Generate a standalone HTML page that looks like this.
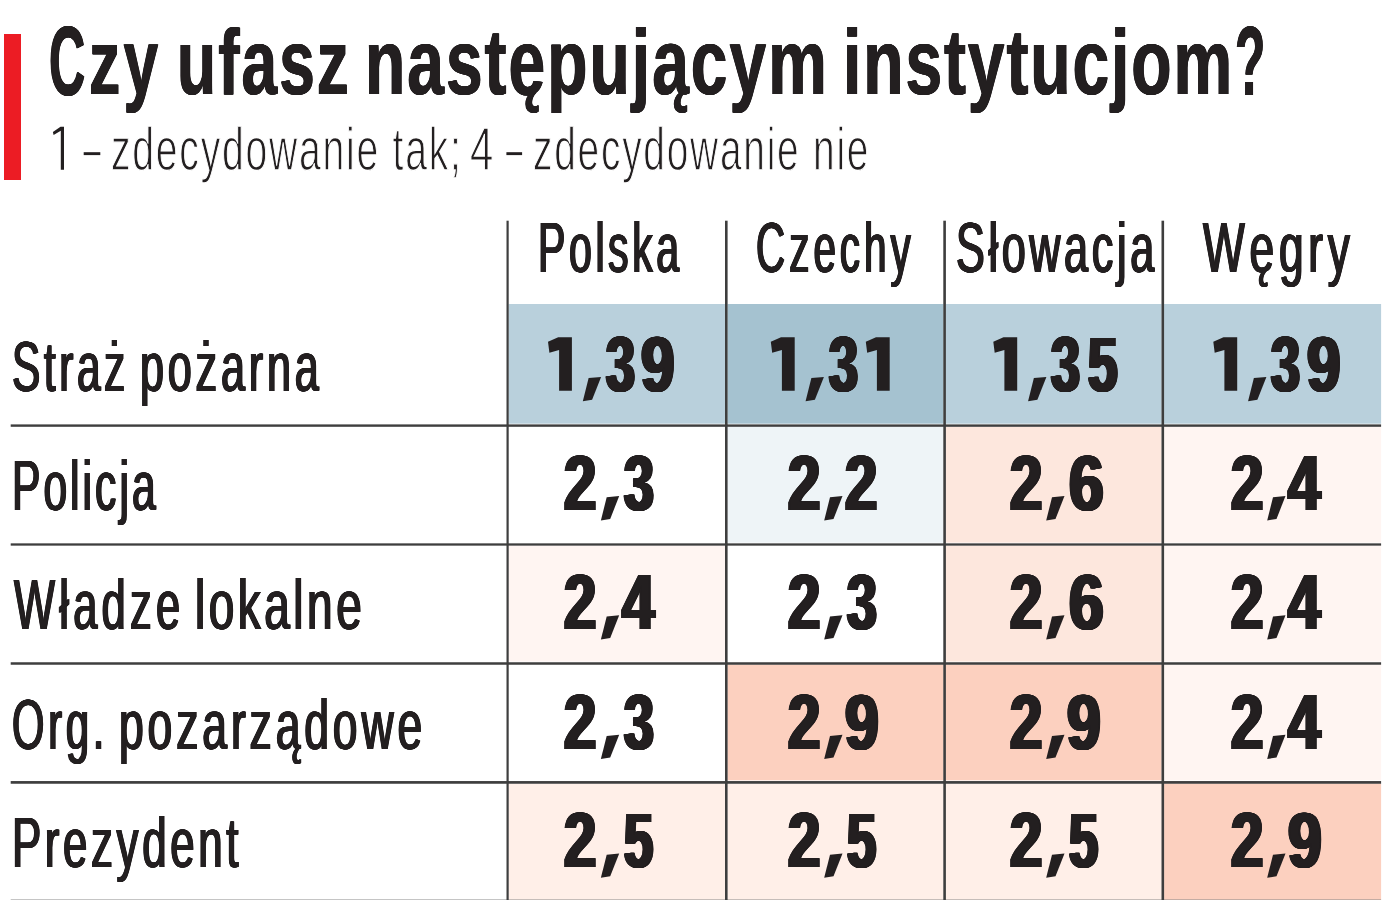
<!DOCTYPE html>
<html lang="pl"><head><meta charset="utf-8"><title>Czy ufasz następującym instytucjom?</title>
<style>
html,body{margin:0;padding:0;background:#fff;}
body{width:1400px;height:900px;overflow:hidden;position:relative;font-family:"Liberation Sans",sans-serif;color:#231f20;}
.bar{position:absolute;left:4px;top:34px;width:17.3px;height:146px;background:#ec1c24;}
#wrap{position:absolute;left:0;top:0;width:1400px;height:900px;filter:blur(0.4px);}
svg.grid{position:absolute;left:0;top:0;}
.t{position:absolute;white-space:nowrap;transform-origin:0 0;}
.hid{color:transparent;}
.sub{-webkit-text-stroke:1.3px #fff;paint-order:fill stroke;}
</style></head><body>
<div id="wrap">
<div class="bar"></div>
<svg class="grid" width="1400" height="900" viewBox="0 0 1400 900">
<rect x="508.70" y="304.00" width="216.30" height="119.70" fill="#b9d0dc"/>
<rect x="727.60" y="304.00" width="215.70" height="119.70" fill="#a5c2d0"/>
<rect x="945.90" y="304.00" width="215.60" height="119.70" fill="#b9d0dc"/>
<rect x="1164.10" y="304.00" width="217.00" height="119.70" fill="#b9d0dc"/>
<rect x="727.60" y="426.80" width="215.70" height="115.85" fill="#eef4f7"/>
<rect x="945.90" y="426.80" width="215.60" height="115.85" fill="#fde7dd"/>
<rect x="1164.10" y="426.80" width="217.00" height="115.85" fill="#fff5f2"/>
<rect x="508.70" y="545.65" width="216.30" height="115.90" fill="#fff5f2"/>
<rect x="945.90" y="545.65" width="215.60" height="115.90" fill="#fde7dd"/>
<rect x="1164.10" y="545.65" width="217.00" height="115.90" fill="#fff5f2"/>
<rect x="727.60" y="664.75" width="215.70" height="115.60" fill="#fcd0bf"/>
<rect x="945.90" y="664.75" width="215.60" height="115.60" fill="#fcd0bf"/>
<rect x="1164.10" y="664.75" width="217.00" height="115.60" fill="#fff5f2"/>
<rect x="508.70" y="783.75" width="216.30" height="115.95" fill="#ffefe8"/>
<rect x="727.60" y="783.75" width="215.70" height="115.95" fill="#ffefe8"/>
<rect x="945.90" y="783.75" width="215.60" height="115.95" fill="#ffefe8"/>
<rect x="1164.10" y="783.75" width="217.00" height="115.95" fill="#fcd0bf"/>
<g style="mix-blend-mode:multiply">
<rect x="10.7" y="424.40" width="1370.40" height="2.4" fill="#3e3e3e"/>
<rect x="10.7" y="543.35" width="1370.40" height="2.3" fill="#3e3e3e"/>
<rect x="10.7" y="662.25" width="1370.40" height="2.5" fill="#3e3e3e"/>
<rect x="10.7" y="781.05" width="1370.40" height="2.7" fill="#3e3e3e"/>
<rect x="10.7" y="899.70" width="1370.40" height="2.6" fill="#3e3e3e"/>
<rect x="506.50" y="220.7" width="2.2" height="679.30" fill="#3e3e3e"/>
<rect x="725.00" y="220.7" width="2.6" height="679.30" fill="#3e3e3e"/>
<rect x="943.30" y="220.7" width="2.6" height="679.30" fill="#3e3e3e"/>
<rect x="1161.50" y="220.7" width="2.6" height="679.30" fill="#3e3e3e"/>
</g>
<polygon points="548.00,341.80 558.20,337.20 571.90,337.20 571.90,390.80 559.10,390.80 559.10,350.00 549.40,352.80" fill="#231f20"/>
<polygon points="588.60,378.10 601.10,376.90 592.10,399.70 582.80,401.20" fill="#231f20"/>
<polygon points="770.80,341.80 781.00,337.20 794.70,337.20 794.70,390.80 781.90,390.80 781.90,350.00 772.20,352.80" fill="#231f20"/>
<polygon points="811.40,378.10 823.90,376.90 814.90,399.70 805.60,401.20" fill="#231f20"/>
<polygon points="865.80,341.80 876.00,337.20 889.70,337.20 889.70,390.80 876.90,390.80 876.90,350.00 867.20,352.80" fill="#231f20"/>
<polygon points="993.30,341.80 1003.50,337.20 1017.20,337.20 1017.20,390.80 1004.40,390.80 1004.40,350.00 994.70,352.80" fill="#231f20"/>
<polygon points="1033.90,378.10 1046.40,376.90 1037.40,399.70 1028.10,401.20" fill="#231f20"/>
<polygon points="1213.30,341.80 1223.50,337.20 1237.20,337.20 1237.20,390.80 1224.40,390.80 1224.40,350.00 1214.70,352.80" fill="#231f20"/>
<polygon points="1253.90,378.10 1266.40,376.90 1257.40,399.70 1248.10,401.20" fill="#231f20"/>
<polygon points="606.70,497.30 619.20,496.10 610.20,518.90 600.90,520.40" fill="#231f20"/>
<polygon points="830.00,497.30 842.50,496.10 833.50,518.90 824.20,520.40" fill="#231f20"/>
<polygon points="1052.00,497.30 1064.50,496.10 1055.50,518.90 1046.20,520.40" fill="#231f20"/>
<polygon points="1273.00,497.30 1285.50,496.10 1276.50,518.90 1267.20,520.40" fill="#231f20"/>
<polygon points="606.70,616.50 619.20,615.30 610.20,638.10 600.90,639.60" fill="#231f20"/>
<polygon points="830.00,616.50 842.50,615.30 833.50,638.10 824.20,639.60" fill="#231f20"/>
<polygon points="1052.00,616.50 1064.50,615.30 1055.50,638.10 1046.20,639.60" fill="#231f20"/>
<polygon points="1273.00,616.50 1285.50,615.30 1276.50,638.10 1267.20,639.60" fill="#231f20"/>
<polygon points="606.70,735.90 619.20,734.70 610.20,757.50 600.90,759.00" fill="#231f20"/>
<polygon points="830.00,735.90 842.50,734.70 833.50,757.50 824.20,759.00" fill="#231f20"/>
<polygon points="1052.00,735.90 1064.50,734.70 1055.50,757.50 1046.20,759.00" fill="#231f20"/>
<polygon points="1273.00,735.90 1285.50,734.70 1276.50,757.50 1267.20,759.00" fill="#231f20"/>
<polygon points="606.70,854.70 619.20,853.50 610.20,876.30 600.90,877.80" fill="#231f20"/>
<polygon points="830.00,854.70 842.50,853.50 833.50,876.30 824.20,877.80" fill="#231f20"/>
<polygon points="1052.00,854.70 1064.50,853.50 1055.50,876.30 1046.20,877.80" fill="#231f20"/>
<polygon points="1273.00,854.70 1285.50,853.50 1276.50,876.30 1267.20,877.80" fill="#231f20"/>
<polygon points="52.90,131.90 60.50,126.70 64.00,126.70 64.00,169.80 60.80,169.80 60.80,130.80 53.60,134.90" fill="#231f20"/>
<rect x="83.70" y="152.20" width="16.60" height="2.90" fill="#231f20"/>
<rect x="506.40" y="152.20" width="15.70" height="2.90" fill="#231f20"/>
</svg>
<div class="t hid" style="left:548.20px;top:324.80px;font-size:78px;line-height:78px;font-weight:bold;transform:scaleX(0.78)">1,39</div>
<div class="t hid" style="left:771.00px;top:324.80px;font-size:78px;line-height:78px;font-weight:bold;transform:scaleX(0.78)">1,31</div>
<div class="t hid" style="left:993.50px;top:324.80px;font-size:78px;line-height:78px;font-weight:bold;transform:scaleX(0.78)">1,35</div>
<div class="t hid" style="left:1213.50px;top:324.80px;font-size:78px;line-height:78px;font-weight:bold;transform:scaleX(0.78)">1,39</div>
<div class="t hid" style="left:564.70px;top:444.00px;font-size:78px;line-height:78px;font-weight:bold;transform:scaleX(0.78)">2,3</div>
<div class="t hid" style="left:788.00px;top:444.00px;font-size:78px;line-height:78px;font-weight:bold;transform:scaleX(0.78)">2,2</div>
<div class="t hid" style="left:1010.00px;top:444.00px;font-size:78px;line-height:78px;font-weight:bold;transform:scaleX(0.78)">2,6</div>
<div class="t hid" style="left:1231.00px;top:444.00px;font-size:78px;line-height:78px;font-weight:bold;transform:scaleX(0.78)">2,4</div>
<div class="t hid" style="left:564.70px;top:563.20px;font-size:78px;line-height:78px;font-weight:bold;transform:scaleX(0.78)">2,4</div>
<div class="t hid" style="left:788.00px;top:563.20px;font-size:78px;line-height:78px;font-weight:bold;transform:scaleX(0.78)">2,3</div>
<div class="t hid" style="left:1010.00px;top:563.20px;font-size:78px;line-height:78px;font-weight:bold;transform:scaleX(0.78)">2,6</div>
<div class="t hid" style="left:1231.00px;top:563.20px;font-size:78px;line-height:78px;font-weight:bold;transform:scaleX(0.78)">2,4</div>
<div class="t hid" style="left:564.70px;top:682.60px;font-size:78px;line-height:78px;font-weight:bold;transform:scaleX(0.78)">2,3</div>
<div class="t hid" style="left:788.00px;top:682.60px;font-size:78px;line-height:78px;font-weight:bold;transform:scaleX(0.78)">2,9</div>
<div class="t hid" style="left:1010.00px;top:682.60px;font-size:78px;line-height:78px;font-weight:bold;transform:scaleX(0.78)">2,9</div>
<div class="t hid" style="left:1231.00px;top:682.60px;font-size:78px;line-height:78px;font-weight:bold;transform:scaleX(0.78)">2,4</div>
<div class="t hid" style="left:564.70px;top:801.40px;font-size:78px;line-height:78px;font-weight:bold;transform:scaleX(0.78)">2,5</div>
<div class="t hid" style="left:788.00px;top:801.40px;font-size:78px;line-height:78px;font-weight:bold;transform:scaleX(0.78)">2,5</div>
<div class="t hid" style="left:1010.00px;top:801.40px;font-size:78px;line-height:78px;font-weight:bold;transform:scaleX(0.78)">2,5</div>
<div class="t hid" style="left:1231.00px;top:801.40px;font-size:78px;line-height:78px;font-weight:bold;transform:scaleX(0.78)">2,9</div>
<div class="t title" style="left:49.14px;top:10.80px;font-size:99px;line-height:99px;font-weight:bold;transform:scaleX(0.5066);text-shadow:-0.99px 0 0 #231f20,-0.49px 0 0 #231f20,0.49px 0 0 #231f20,0.99px 0 0 #231f20;">C</div>
<div class="t title" style="left:88.70px;top:15.80px;font-size:93px;line-height:93px;font-weight:bold;transform:scaleX(0.6706);text-shadow:-0.75px 0 0 #231f20,-0.37px 0 0 #231f20,0.37px 0 0 #231f20,0.75px 0 0 #231f20;letter-spacing:4.988px;">zy</div>
<div class="t title" style="left:176.53px;top:15.80px;font-size:93px;line-height:93px;font-weight:bold;transform:scaleX(0.6877);text-shadow:-0.73px 0 0 #231f20,-0.36px 0 0 #231f20,0.36px 0 0 #231f20,0.73px 0 0 #231f20;letter-spacing:3.019px;">ufasz</div>
<div class="t title" style="left:364.76px;top:15.80px;font-size:93px;line-height:93px;font-weight:bold;transform:scaleX(0.7078);text-shadow:-0.71px 0 0 #231f20,-0.35px 0 0 #231f20,0.35px 0 0 #231f20,0.71px 0 0 #231f20;letter-spacing:2.911px;">następującym</div>
<div class="t title" style="left:842.99px;top:15.80px;font-size:93px;line-height:93px;font-weight:bold;transform:scaleX(0.7092);text-shadow:-0.71px 0 0 #231f20,-0.35px 0 0 #231f20,0.35px 0 0 #231f20,0.71px 0 0 #231f20;letter-spacing:2.683px;">instytucjom</div>
<div class="t title" style="left:1235.33px;top:11.80px;font-size:98px;line-height:98px;font-weight:bold;transform:scaleX(0.5049);text-shadow:-0.99px 0 0 #231f20,-0.50px 0 0 #231f20,0.50px 0 0 #231f20,0.99px 0 0 #231f20;">?</div>
<div class="t sub" style="left:111.31px;top:118.00px;font-size:61.5px;line-height:61.5px;font-weight:normal;transform:scaleX(0.6369);letter-spacing:2.709px;">zdecydowanie tak;</div>
<div class="t sub" style="left:470.44px;top:118.00px;font-size:61.5px;line-height:61.5px;font-weight:normal;transform:scaleX(0.6806);">4</div>
<div class="t sub" style="left:533.43px;top:118.00px;font-size:61.5px;line-height:61.5px;font-weight:normal;transform:scaleX(0.6316);letter-spacing:2.807px;">zdecydowanie nie</div>
<div class="t hdr" style="left:538.48px;top:212.10px;font-size:71px;line-height:71px;font-weight:normal;transform:scaleX(0.5782);text-shadow:-1.30px 0 0 #231f20,-0.86px 0 0 #231f20,-0.43px 0 0 #231f20,0.43px 0 0 #231f20,0.86px 0 0 #231f20,1.30px 0 0 #231f20;letter-spacing:6.210px;">Polska</div>
<div class="t hdr" style="left:755.60px;top:212.10px;font-size:71px;line-height:71px;font-weight:normal;transform:scaleX(0.5697);text-shadow:-1.32px 0 0 #231f20,-0.88px 0 0 #231f20,-0.44px 0 0 #231f20,0.44px 0 0 #231f20,0.88px 0 0 #231f20,1.32px 0 0 #231f20;letter-spacing:6.982px;">Czechy</div>
<div class="t hdr" style="left:955.59px;top:212.10px;font-size:71px;line-height:71px;font-weight:normal;transform:scaleX(0.6075);text-shadow:-1.23px 0 0 #231f20,-0.82px 0 0 #231f20,-0.41px 0 0 #231f20,0.41px 0 0 #231f20,0.82px 0 0 #231f20,1.23px 0 0 #231f20;letter-spacing:6.007px;">Słowacja</div>
<div class="t hdr" style="left:1202.66px;top:212.10px;font-size:71px;line-height:71px;font-weight:normal;transform:scaleX(0.6233);text-shadow:-1.20px 0 0 #231f20,-0.80px 0 0 #231f20,-0.40px 0 0 #231f20,0.40px 0 0 #231f20,0.80px 0 0 #231f20,1.20px 0 0 #231f20;letter-spacing:7.670px;">Węgry</div>
<div class="t lbl" style="left:12.22px;top:330.80px;font-size:71px;line-height:71px;font-weight:normal;transform:scaleX(0.5981);text-shadow:-1.25px 0 0 #231f20,-0.84px 0 0 #231f20,-0.42px 0 0 #231f20,0.42px 0 0 #231f20,0.84px 0 0 #231f20,1.25px 0 0 #231f20;letter-spacing:5.939px;">Straż</div>
<div class="t lbl" style="left:139.57px;top:330.80px;font-size:71px;line-height:71px;font-weight:normal;transform:scaleX(0.6071);text-shadow:-1.24px 0 0 #231f20,-0.82px 0 0 #231f20,-0.41px 0 0 #231f20,0.41px 0 0 #231f20,0.82px 0 0 #231f20,1.24px 0 0 #231f20;letter-spacing:6.289px;">pożarna</div>
<div class="t lbl" style="left:12.26px;top:450.00px;font-size:71px;line-height:71px;font-weight:normal;transform:scaleX(0.5992);text-shadow:-1.25px 0 0 #231f20,-0.83px 0 0 #231f20,-0.42px 0 0 #231f20,0.42px 0 0 #231f20,0.83px 0 0 #231f20,1.25px 0 0 #231f20;letter-spacing:5.076px;">Policja</div>
<div class="t lbl" style="left:14.16px;top:569.20px;font-size:71px;line-height:71px;font-weight:normal;transform:scaleX(0.6114);text-shadow:-1.23px 0 0 #231f20,-0.82px 0 0 #231f20,-0.41px 0 0 #231f20,0.41px 0 0 #231f20,0.82px 0 0 #231f20,1.23px 0 0 #231f20;letter-spacing:6.992px;">Władze</div>
<div class="t lbl" style="left:194.65px;top:569.20px;font-size:71px;line-height:71px;font-weight:normal;transform:scaleX(0.6473);text-shadow:-1.16px 0 0 #231f20,-0.77px 0 0 #231f20,-0.39px 0 0 #231f20,0.39px 0 0 #231f20,0.77px 0 0 #231f20,1.16px 0 0 #231f20;letter-spacing:5.422px;">lokalne</div>
<div class="t lbl" style="left:11.97px;top:688.60px;font-size:71px;line-height:71px;font-weight:normal;transform:scaleX(0.5874);text-shadow:-1.28px 0 0 #231f20,-0.85px 0 0 #231f20,-0.43px 0 0 #231f20,0.43px 0 0 #231f20,0.85px 0 0 #231f20,1.28px 0 0 #231f20;letter-spacing:6.425px;">Org.</div>
<div class="t lbl" style="left:118.79px;top:688.60px;font-size:71px;line-height:71px;font-weight:normal;transform:scaleX(0.6258);text-shadow:-1.20px 0 0 #231f20,-0.80px 0 0 #231f20,-0.40px 0 0 #231f20,0.40px 0 0 #231f20,0.80px 0 0 #231f20,1.20px 0 0 #231f20;letter-spacing:6.205px;">pozarządowe</div>
<div class="t lbl" style="left:12.35px;top:807.40px;font-size:71px;line-height:71px;font-weight:normal;transform:scaleX(0.6173);text-shadow:-1.21px 0 0 #231f20,-0.81px 0 0 #231f20,-0.40px 0 0 #231f20,0.40px 0 0 #231f20,0.81px 0 0 #231f20,1.21px 0 0 #231f20;letter-spacing:5.867px;">Prezydent</div>
<div class="t num" style="left:605.80px;top:324.80px;font-size:78px;line-height:78px;font-weight:bold;transform:scaleX(0.6680);text-shadow:-2.69px 0 0 #231f20,-2.31px 0 0 #231f20,-1.92px 0 0 #231f20,-1.54px 0 0 #231f20,-1.15px 0 0 #231f20,-0.77px 0 0 #231f20,-0.38px 0 0 #231f20,0.38px 0 0 #231f20,0.77px 0 0 #231f20,1.15px 0 0 #231f20,1.54px 0 0 #231f20,1.92px 0 0 #231f20,2.31px 0 0 #231f20,2.69px 0 0 #231f20;">3</div>
<div class="t num" style="left:641.41px;top:324.80px;font-size:78px;line-height:78px;font-weight:bold;transform:scaleX(0.7729);text-shadow:-2.33px 0 0 #231f20,-1.94px 0 0 #231f20,-1.55px 0 0 #231f20,-1.16px 0 0 #231f20,-0.78px 0 0 #231f20,-0.39px 0 0 #231f20,0.39px 0 0 #231f20,0.78px 0 0 #231f20,1.16px 0 0 #231f20,1.55px 0 0 #231f20,1.94px 0 0 #231f20,2.33px 0 0 #231f20;">9</div>
<div class="t num" style="left:828.60px;top:324.80px;font-size:78px;line-height:78px;font-weight:bold;transform:scaleX(0.6680);text-shadow:-2.69px 0 0 #231f20,-2.31px 0 0 #231f20,-1.92px 0 0 #231f20,-1.54px 0 0 #231f20,-1.15px 0 0 #231f20,-0.77px 0 0 #231f20,-0.38px 0 0 #231f20,0.38px 0 0 #231f20,0.77px 0 0 #231f20,1.15px 0 0 #231f20,1.54px 0 0 #231f20,1.92px 0 0 #231f20,2.31px 0 0 #231f20,2.69px 0 0 #231f20;">3</div>
<div class="t num" style="left:1051.10px;top:324.80px;font-size:78px;line-height:78px;font-weight:bold;transform:scaleX(0.6680);text-shadow:-2.69px 0 0 #231f20,-2.31px 0 0 #231f20,-1.92px 0 0 #231f20,-1.54px 0 0 #231f20,-1.15px 0 0 #231f20,-0.77px 0 0 #231f20,-0.38px 0 0 #231f20,0.38px 0 0 #231f20,0.77px 0 0 #231f20,1.15px 0 0 #231f20,1.54px 0 0 #231f20,1.92px 0 0 #231f20,2.31px 0 0 #231f20,2.69px 0 0 #231f20;">3</div>
<div class="t num" style="left:1088.17px;top:324.80px;font-size:78px;line-height:78px;font-weight:bold;transform:scaleX(0.6802);text-shadow:-2.65px 0 0 #231f20,-2.27px 0 0 #231f20,-1.89px 0 0 #231f20,-1.51px 0 0 #231f20,-1.13px 0 0 #231f20,-0.76px 0 0 #231f20,-0.38px 0 0 #231f20,0.38px 0 0 #231f20,0.76px 0 0 #231f20,1.13px 0 0 #231f20,1.51px 0 0 #231f20,1.89px 0 0 #231f20,2.27px 0 0 #231f20,2.65px 0 0 #231f20;">5</div>
<div class="t num" style="left:1271.10px;top:324.80px;font-size:78px;line-height:78px;font-weight:bold;transform:scaleX(0.6680);text-shadow:-2.69px 0 0 #231f20,-2.31px 0 0 #231f20,-1.92px 0 0 #231f20,-1.54px 0 0 #231f20,-1.15px 0 0 #231f20,-0.77px 0 0 #231f20,-0.38px 0 0 #231f20,0.38px 0 0 #231f20,0.77px 0 0 #231f20,1.15px 0 0 #231f20,1.54px 0 0 #231f20,1.92px 0 0 #231f20,2.31px 0 0 #231f20,2.69px 0 0 #231f20;">3</div>
<div class="t num" style="left:1306.71px;top:324.80px;font-size:78px;line-height:78px;font-weight:bold;transform:scaleX(0.7729);text-shadow:-2.33px 0 0 #231f20,-1.94px 0 0 #231f20,-1.55px 0 0 #231f20,-1.16px 0 0 #231f20,-0.78px 0 0 #231f20,-0.39px 0 0 #231f20,0.39px 0 0 #231f20,0.78px 0 0 #231f20,1.16px 0 0 #231f20,1.55px 0 0 #231f20,1.94px 0 0 #231f20,2.33px 0 0 #231f20;">9</div>
<div class="t num" style="left:564.49px;top:444.00px;font-size:78px;line-height:78px;font-weight:bold;transform:scaleX(0.7430);text-shadow:-2.42px 0 0 #231f20,-2.02px 0 0 #231f20,-1.62px 0 0 #231f20,-1.21px 0 0 #231f20,-0.81px 0 0 #231f20,-0.40px 0 0 #231f20,0.40px 0 0 #231f20,0.81px 0 0 #231f20,1.21px 0 0 #231f20,1.62px 0 0 #231f20,2.02px 0 0 #231f20,2.42px 0 0 #231f20;">2</div>
<div class="t num" style="left:624.07px;top:444.00px;font-size:78px;line-height:78px;font-weight:bold;transform:scaleX(0.6887);text-shadow:-2.61px 0 0 #231f20,-2.24px 0 0 #231f20,-1.87px 0 0 #231f20,-1.49px 0 0 #231f20,-1.12px 0 0 #231f20,-0.75px 0 0 #231f20,-0.37px 0 0 #231f20,0.37px 0 0 #231f20,0.75px 0 0 #231f20,1.12px 0 0 #231f20,1.49px 0 0 #231f20,1.87px 0 0 #231f20,2.24px 0 0 #231f20,2.61px 0 0 #231f20;">3</div>
<div class="t num" style="left:787.79px;top:444.00px;font-size:78px;line-height:78px;font-weight:bold;transform:scaleX(0.7430);text-shadow:-2.42px 0 0 #231f20,-2.02px 0 0 #231f20,-1.62px 0 0 #231f20,-1.21px 0 0 #231f20,-0.81px 0 0 #231f20,-0.40px 0 0 #231f20,0.40px 0 0 #231f20,0.81px 0 0 #231f20,1.21px 0 0 #231f20,1.62px 0 0 #231f20,2.02px 0 0 #231f20,2.42px 0 0 #231f20;">2</div>
<div class="t num" style="left:845.29px;top:444.00px;font-size:78px;line-height:78px;font-weight:bold;transform:scaleX(0.7430);text-shadow:-2.42px 0 0 #231f20,-2.02px 0 0 #231f20,-1.62px 0 0 #231f20,-1.21px 0 0 #231f20,-0.81px 0 0 #231f20,-0.40px 0 0 #231f20,0.40px 0 0 #231f20,0.81px 0 0 #231f20,1.21px 0 0 #231f20,1.62px 0 0 #231f20,2.02px 0 0 #231f20,2.42px 0 0 #231f20;">2</div>
<div class="t num" style="left:1009.79px;top:444.00px;font-size:78px;line-height:78px;font-weight:bold;transform:scaleX(0.7430);text-shadow:-2.42px 0 0 #231f20,-2.02px 0 0 #231f20,-1.62px 0 0 #231f20,-1.21px 0 0 #231f20,-0.81px 0 0 #231f20,-0.40px 0 0 #231f20,0.40px 0 0 #231f20,0.81px 0 0 #231f20,1.21px 0 0 #231f20,1.62px 0 0 #231f20,2.02px 0 0 #231f20,2.42px 0 0 #231f20;">2</div>
<div class="t num" style="left:1068.51px;top:444.00px;font-size:78px;line-height:78px;font-weight:bold;transform:scaleX(0.8010);text-shadow:-2.25px 0 0 #231f20,-1.87px 0 0 #231f20,-1.50px 0 0 #231f20,-1.12px 0 0 #231f20,-0.75px 0 0 #231f20,-0.37px 0 0 #231f20,0.37px 0 0 #231f20,0.75px 0 0 #231f20,1.12px 0 0 #231f20,1.50px 0 0 #231f20,1.87px 0 0 #231f20,2.25px 0 0 #231f20;">6</div>
<div class="t num" style="left:1230.79px;top:444.00px;font-size:78px;line-height:78px;font-weight:bold;transform:scaleX(0.7430);text-shadow:-2.42px 0 0 #231f20,-2.02px 0 0 #231f20,-1.62px 0 0 #231f20,-1.21px 0 0 #231f20,-0.81px 0 0 #231f20,-0.40px 0 0 #231f20,0.40px 0 0 #231f20,0.81px 0 0 #231f20,1.21px 0 0 #231f20,1.62px 0 0 #231f20,2.02px 0 0 #231f20,2.42px 0 0 #231f20;">2</div>
<div class="t num" style="left:1287.91px;top:444.00px;font-size:78px;line-height:78px;font-weight:bold;transform:scaleX(0.7516);text-shadow:-2.40px 0 0 #231f20,-2.00px 0 0 #231f20,-1.60px 0 0 #231f20,-1.20px 0 0 #231f20,-0.80px 0 0 #231f20,-0.40px 0 0 #231f20,0.40px 0 0 #231f20,0.80px 0 0 #231f20,1.20px 0 0 #231f20,1.60px 0 0 #231f20,2.00px 0 0 #231f20,2.40px 0 0 #231f20;">4</div>
<div class="t num" style="left:564.49px;top:563.20px;font-size:78px;line-height:78px;font-weight:bold;transform:scaleX(0.7430);text-shadow:-2.42px 0 0 #231f20,-2.02px 0 0 #231f20,-1.62px 0 0 #231f20,-1.21px 0 0 #231f20,-0.81px 0 0 #231f20,-0.40px 0 0 #231f20,0.40px 0 0 #231f20,0.81px 0 0 #231f20,1.21px 0 0 #231f20,1.62px 0 0 #231f20,2.02px 0 0 #231f20,2.42px 0 0 #231f20;">2</div>
<div class="t num" style="left:621.61px;top:563.20px;font-size:78px;line-height:78px;font-weight:bold;transform:scaleX(0.7516);text-shadow:-2.40px 0 0 #231f20,-2.00px 0 0 #231f20,-1.60px 0 0 #231f20,-1.20px 0 0 #231f20,-0.80px 0 0 #231f20,-0.40px 0 0 #231f20,0.40px 0 0 #231f20,0.80px 0 0 #231f20,1.20px 0 0 #231f20,1.60px 0 0 #231f20,2.00px 0 0 #231f20,2.40px 0 0 #231f20;">4</div>
<div class="t num" style="left:787.79px;top:563.20px;font-size:78px;line-height:78px;font-weight:bold;transform:scaleX(0.7430);text-shadow:-2.42px 0 0 #231f20,-2.02px 0 0 #231f20,-1.62px 0 0 #231f20,-1.21px 0 0 #231f20,-0.81px 0 0 #231f20,-0.40px 0 0 #231f20,0.40px 0 0 #231f20,0.81px 0 0 #231f20,1.21px 0 0 #231f20,1.62px 0 0 #231f20,2.02px 0 0 #231f20,2.42px 0 0 #231f20;">2</div>
<div class="t num" style="left:847.37px;top:563.20px;font-size:78px;line-height:78px;font-weight:bold;transform:scaleX(0.6887);text-shadow:-2.61px 0 0 #231f20,-2.24px 0 0 #231f20,-1.87px 0 0 #231f20,-1.49px 0 0 #231f20,-1.12px 0 0 #231f20,-0.75px 0 0 #231f20,-0.37px 0 0 #231f20,0.37px 0 0 #231f20,0.75px 0 0 #231f20,1.12px 0 0 #231f20,1.49px 0 0 #231f20,1.87px 0 0 #231f20,2.24px 0 0 #231f20,2.61px 0 0 #231f20;">3</div>
<div class="t num" style="left:1009.79px;top:563.20px;font-size:78px;line-height:78px;font-weight:bold;transform:scaleX(0.7430);text-shadow:-2.42px 0 0 #231f20,-2.02px 0 0 #231f20,-1.62px 0 0 #231f20,-1.21px 0 0 #231f20,-0.81px 0 0 #231f20,-0.40px 0 0 #231f20,0.40px 0 0 #231f20,0.81px 0 0 #231f20,1.21px 0 0 #231f20,1.62px 0 0 #231f20,2.02px 0 0 #231f20,2.42px 0 0 #231f20;">2</div>
<div class="t num" style="left:1068.51px;top:563.20px;font-size:78px;line-height:78px;font-weight:bold;transform:scaleX(0.8010);text-shadow:-2.25px 0 0 #231f20,-1.87px 0 0 #231f20,-1.50px 0 0 #231f20,-1.12px 0 0 #231f20,-0.75px 0 0 #231f20,-0.37px 0 0 #231f20,0.37px 0 0 #231f20,0.75px 0 0 #231f20,1.12px 0 0 #231f20,1.50px 0 0 #231f20,1.87px 0 0 #231f20,2.25px 0 0 #231f20;">6</div>
<div class="t num" style="left:1230.79px;top:563.20px;font-size:78px;line-height:78px;font-weight:bold;transform:scaleX(0.7430);text-shadow:-2.42px 0 0 #231f20,-2.02px 0 0 #231f20,-1.62px 0 0 #231f20,-1.21px 0 0 #231f20,-0.81px 0 0 #231f20,-0.40px 0 0 #231f20,0.40px 0 0 #231f20,0.81px 0 0 #231f20,1.21px 0 0 #231f20,1.62px 0 0 #231f20,2.02px 0 0 #231f20,2.42px 0 0 #231f20;">2</div>
<div class="t num" style="left:1287.91px;top:563.20px;font-size:78px;line-height:78px;font-weight:bold;transform:scaleX(0.7516);text-shadow:-2.40px 0 0 #231f20,-2.00px 0 0 #231f20,-1.60px 0 0 #231f20,-1.20px 0 0 #231f20,-0.80px 0 0 #231f20,-0.40px 0 0 #231f20,0.40px 0 0 #231f20,0.80px 0 0 #231f20,1.20px 0 0 #231f20,1.60px 0 0 #231f20,2.00px 0 0 #231f20,2.40px 0 0 #231f20;">4</div>
<div class="t num" style="left:564.49px;top:682.60px;font-size:78px;line-height:78px;font-weight:bold;transform:scaleX(0.7430);text-shadow:-2.42px 0 0 #231f20,-2.02px 0 0 #231f20,-1.62px 0 0 #231f20,-1.21px 0 0 #231f20,-0.81px 0 0 #231f20,-0.40px 0 0 #231f20,0.40px 0 0 #231f20,0.81px 0 0 #231f20,1.21px 0 0 #231f20,1.62px 0 0 #231f20,2.02px 0 0 #231f20,2.42px 0 0 #231f20;">2</div>
<div class="t num" style="left:624.07px;top:682.60px;font-size:78px;line-height:78px;font-weight:bold;transform:scaleX(0.6887);text-shadow:-2.61px 0 0 #231f20,-2.24px 0 0 #231f20,-1.87px 0 0 #231f20,-1.49px 0 0 #231f20,-1.12px 0 0 #231f20,-0.75px 0 0 #231f20,-0.37px 0 0 #231f20,0.37px 0 0 #231f20,0.75px 0 0 #231f20,1.12px 0 0 #231f20,1.49px 0 0 #231f20,1.87px 0 0 #231f20,2.24px 0 0 #231f20,2.61px 0 0 #231f20;">3</div>
<div class="t num" style="left:787.79px;top:682.60px;font-size:78px;line-height:78px;font-weight:bold;transform:scaleX(0.7430);text-shadow:-2.42px 0 0 #231f20,-2.02px 0 0 #231f20,-1.62px 0 0 #231f20,-1.21px 0 0 #231f20,-0.81px 0 0 #231f20,-0.40px 0 0 #231f20,0.40px 0 0 #231f20,0.81px 0 0 #231f20,1.21px 0 0 #231f20,1.62px 0 0 #231f20,2.02px 0 0 #231f20,2.42px 0 0 #231f20;">2</div>
<div class="t num" style="left:845.30px;top:682.60px;font-size:78px;line-height:78px;font-weight:bold;transform:scaleX(0.7782);text-shadow:-2.31px 0 0 #231f20,-1.93px 0 0 #231f20,-1.54px 0 0 #231f20,-1.16px 0 0 #231f20,-0.77px 0 0 #231f20,-0.39px 0 0 #231f20,0.39px 0 0 #231f20,0.77px 0 0 #231f20,1.16px 0 0 #231f20,1.54px 0 0 #231f20,1.93px 0 0 #231f20,2.31px 0 0 #231f20;">9</div>
<div class="t num" style="left:1009.79px;top:682.60px;font-size:78px;line-height:78px;font-weight:bold;transform:scaleX(0.7430);text-shadow:-2.42px 0 0 #231f20,-2.02px 0 0 #231f20,-1.62px 0 0 #231f20,-1.21px 0 0 #231f20,-0.81px 0 0 #231f20,-0.40px 0 0 #231f20,0.40px 0 0 #231f20,0.81px 0 0 #231f20,1.21px 0 0 #231f20,1.62px 0 0 #231f20,2.02px 0 0 #231f20,2.42px 0 0 #231f20;">2</div>
<div class="t num" style="left:1067.30px;top:682.60px;font-size:78px;line-height:78px;font-weight:bold;transform:scaleX(0.7782);text-shadow:-2.31px 0 0 #231f20,-1.93px 0 0 #231f20,-1.54px 0 0 #231f20,-1.16px 0 0 #231f20,-0.77px 0 0 #231f20,-0.39px 0 0 #231f20,0.39px 0 0 #231f20,0.77px 0 0 #231f20,1.16px 0 0 #231f20,1.54px 0 0 #231f20,1.93px 0 0 #231f20,2.31px 0 0 #231f20;">9</div>
<div class="t num" style="left:1230.79px;top:682.60px;font-size:78px;line-height:78px;font-weight:bold;transform:scaleX(0.7430);text-shadow:-2.42px 0 0 #231f20,-2.02px 0 0 #231f20,-1.62px 0 0 #231f20,-1.21px 0 0 #231f20,-0.81px 0 0 #231f20,-0.40px 0 0 #231f20,0.40px 0 0 #231f20,0.81px 0 0 #231f20,1.21px 0 0 #231f20,1.62px 0 0 #231f20,2.02px 0 0 #231f20,2.42px 0 0 #231f20;">2</div>
<div class="t num" style="left:1287.91px;top:682.60px;font-size:78px;line-height:78px;font-weight:bold;transform:scaleX(0.7516);text-shadow:-2.40px 0 0 #231f20,-2.00px 0 0 #231f20,-1.60px 0 0 #231f20,-1.20px 0 0 #231f20,-0.80px 0 0 #231f20,-0.40px 0 0 #231f20,0.40px 0 0 #231f20,0.80px 0 0 #231f20,1.20px 0 0 #231f20,1.60px 0 0 #231f20,2.00px 0 0 #231f20,2.40px 0 0 #231f20;">4</div>
<div class="t num" style="left:564.49px;top:801.40px;font-size:78px;line-height:78px;font-weight:bold;transform:scaleX(0.7430);text-shadow:-2.42px 0 0 #231f20,-2.02px 0 0 #231f20,-1.62px 0 0 #231f20,-1.21px 0 0 #231f20,-0.81px 0 0 #231f20,-0.40px 0 0 #231f20,0.40px 0 0 #231f20,0.81px 0 0 #231f20,1.21px 0 0 #231f20,1.62px 0 0 #231f20,2.02px 0 0 #231f20,2.42px 0 0 #231f20;">2</div>
<div class="t num" style="left:624.19px;top:801.40px;font-size:78px;line-height:78px;font-weight:bold;transform:scaleX(0.6725);text-shadow:-2.68px 0 0 #231f20,-2.29px 0 0 #231f20,-1.91px 0 0 #231f20,-1.53px 0 0 #231f20,-1.15px 0 0 #231f20,-0.76px 0 0 #231f20,-0.38px 0 0 #231f20,0.38px 0 0 #231f20,0.76px 0 0 #231f20,1.15px 0 0 #231f20,1.53px 0 0 #231f20,1.91px 0 0 #231f20,2.29px 0 0 #231f20,2.68px 0 0 #231f20;">5</div>
<div class="t num" style="left:787.79px;top:801.40px;font-size:78px;line-height:78px;font-weight:bold;transform:scaleX(0.7430);text-shadow:-2.42px 0 0 #231f20,-2.02px 0 0 #231f20,-1.62px 0 0 #231f20,-1.21px 0 0 #231f20,-0.81px 0 0 #231f20,-0.40px 0 0 #231f20,0.40px 0 0 #231f20,0.81px 0 0 #231f20,1.21px 0 0 #231f20,1.62px 0 0 #231f20,2.02px 0 0 #231f20,2.42px 0 0 #231f20;">2</div>
<div class="t num" style="left:847.49px;top:801.40px;font-size:78px;line-height:78px;font-weight:bold;transform:scaleX(0.6725);text-shadow:-2.68px 0 0 #231f20,-2.29px 0 0 #231f20,-1.91px 0 0 #231f20,-1.53px 0 0 #231f20,-1.15px 0 0 #231f20,-0.76px 0 0 #231f20,-0.38px 0 0 #231f20,0.38px 0 0 #231f20,0.76px 0 0 #231f20,1.15px 0 0 #231f20,1.53px 0 0 #231f20,1.91px 0 0 #231f20,2.29px 0 0 #231f20,2.68px 0 0 #231f20;">5</div>
<div class="t num" style="left:1009.79px;top:801.40px;font-size:78px;line-height:78px;font-weight:bold;transform:scaleX(0.7430);text-shadow:-2.42px 0 0 #231f20,-2.02px 0 0 #231f20,-1.62px 0 0 #231f20,-1.21px 0 0 #231f20,-0.81px 0 0 #231f20,-0.40px 0 0 #231f20,0.40px 0 0 #231f20,0.81px 0 0 #231f20,1.21px 0 0 #231f20,1.62px 0 0 #231f20,2.02px 0 0 #231f20,2.42px 0 0 #231f20;">2</div>
<div class="t num" style="left:1069.49px;top:801.40px;font-size:78px;line-height:78px;font-weight:bold;transform:scaleX(0.6725);text-shadow:-2.68px 0 0 #231f20,-2.29px 0 0 #231f20,-1.91px 0 0 #231f20,-1.53px 0 0 #231f20,-1.15px 0 0 #231f20,-0.76px 0 0 #231f20,-0.38px 0 0 #231f20,0.38px 0 0 #231f20,0.76px 0 0 #231f20,1.15px 0 0 #231f20,1.53px 0 0 #231f20,1.91px 0 0 #231f20,2.29px 0 0 #231f20,2.68px 0 0 #231f20;">5</div>
<div class="t num" style="left:1230.79px;top:801.40px;font-size:78px;line-height:78px;font-weight:bold;transform:scaleX(0.7430);text-shadow:-2.42px 0 0 #231f20,-2.02px 0 0 #231f20,-1.62px 0 0 #231f20,-1.21px 0 0 #231f20,-0.81px 0 0 #231f20,-0.40px 0 0 #231f20,0.40px 0 0 #231f20,0.81px 0 0 #231f20,1.21px 0 0 #231f20,1.62px 0 0 #231f20,2.02px 0 0 #231f20,2.42px 0 0 #231f20;">2</div>
<div class="t num" style="left:1288.30px;top:801.40px;font-size:78px;line-height:78px;font-weight:bold;transform:scaleX(0.7782);text-shadow:-2.31px 0 0 #231f20,-1.93px 0 0 #231f20,-1.54px 0 0 #231f20,-1.16px 0 0 #231f20,-0.77px 0 0 #231f20,-0.39px 0 0 #231f20,0.39px 0 0 #231f20,0.77px 0 0 #231f20,1.16px 0 0 #231f20,1.54px 0 0 #231f20,1.93px 0 0 #231f20,2.31px 0 0 #231f20;">9</div>
</div>
</body></html>
